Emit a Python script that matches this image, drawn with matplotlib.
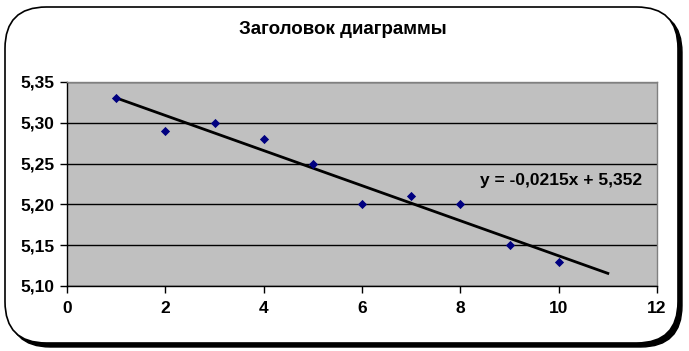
import matplotlib
matplotlib.use("Agg")
import matplotlib.pyplot as plt
from matplotlib.patches import FancyBboxPatch
import numpy as np

x_vals = [1, 2, 3, 4, 5, 6, 7, 8, 9, 10]
y_vals = [5.33, 5.29, 5.30, 5.28, 5.25, 5.20, 5.21, 5.20, 5.15, 5.13]
slope = -0.0215
intercept = 5.352
trend_x = [1, 11]
x_ticks = [0, 2, 4, 6, 8, 10, 12]
y_ticks = [5.10, 5.15, 5.20, 5.25, 5.30, 5.35]
title = "Заголовок диаграммы"
eq_label = "y = -0,0215x + 5,352"

plt.rcParams['font.family'] = ['Liberation Sans Narrow', 'Liberation Sans', 'DejaVu Sans']

W, H = 689, 351
fig = plt.figure(figsize=(W / 100, H / 100), dpi=100)
fig.patch.set_facecolor('white')

# frame with shadow
shadow = FancyBboxPatch((9 / W, 4 / H), 673 / W, 336 / H,
                        boxstyle="round,pad=0,rounding_size=0.06",
                        transform=fig.transFigure, facecolor='black',
                        edgecolor='black', linewidth=1, zorder=0,
                        mutation_aspect=W / H)
fig.patches.append(shadow)
frame = FancyBboxPatch((5 / W, 8 / H), 673 / W, 336 / H,
                       boxstyle="round,pad=0,rounding_size=0.06",
                       transform=fig.transFigure, facecolor='white',
                       edgecolor='black', linewidth=1.2, zorder=1,
                       mutation_aspect=W / H)
fig.patches.append(frame)

ax = fig.add_axes([67 / W, 1 - 286 / H, 590 / W, 204 / H])
ax.set_facecolor('#c0c0c0')
ax.set_zorder(2)

ax.set_xlim(0, 12)
ax.set_ylim(5.10, 5.35)
ax.set_xticks(x_ticks)
ax.set_yticks(y_ticks)
ax.set_xticklabels([str(t) for t in x_ticks])
ax.set_yticklabels([f"{t:.2f}".replace('.', ',') for t in y_ticks])
ax.tick_params(axis='both', direction='out', length=5, width=1, color='black',
               labelsize=12.5)
ax.tick_params(axis='x', pad=6)
ax.tick_params(axis='y', pad=4)
for lab in ax.get_xticklabels() + ax.get_yticklabels():
    lab.set_fontweight('bold')

ax.yaxis.grid(True, color='black', linewidth=1)
ax.set_axisbelow(True)
for s in ['top', 'right']:
    ax.spines[s].set_color('#808080')
    ax.spines[s].set_linewidth(1)
for s in ['left', 'bottom']:
    ax.spines[s].set_color('black')
    ax.spines[s].set_linewidth(1)

tx = np.array(trend_x, dtype=float)
ax.plot(tx, slope * tx + intercept, color='black', linewidth=2, zorder=3)
ax.scatter(x_vals, y_vals, marker='D', s=22, color='#000080', zorder=4,
           linewidths=0)

ax.text(10.05, 5.2287, eq_label, ha='center', va='center', fontsize=12.5,
        fontweight='bold', zorder=5)

fig.text(343 / W, 1 - 30 / H, title, ha='center', va='center', fontsize=13.5,
         fontweight='bold')

fig.savefig("out.png", dpi=100)
